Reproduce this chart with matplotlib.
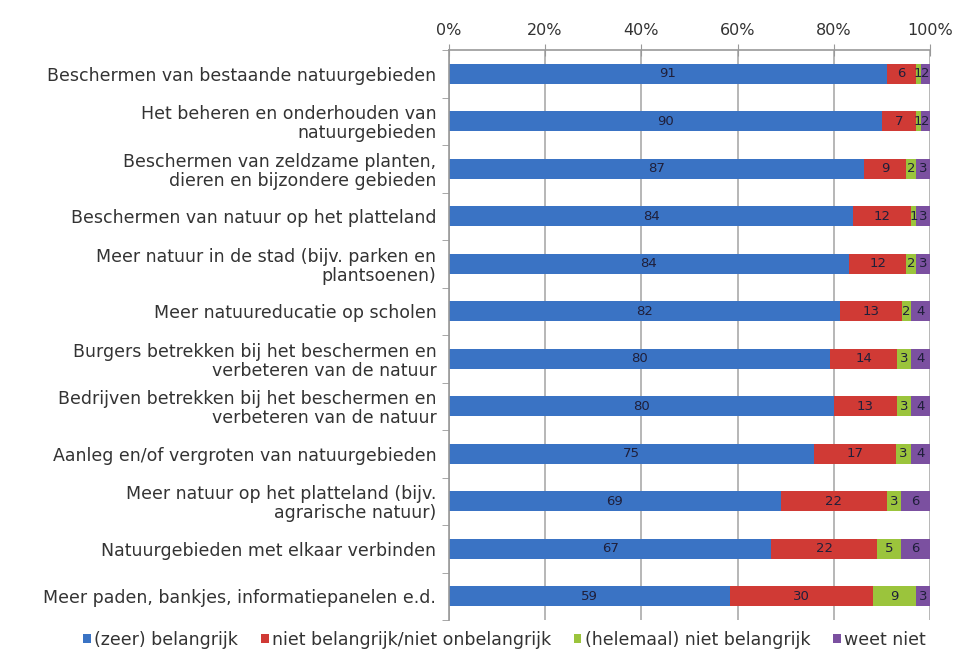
import matplotlib.pyplot as plt
import numpy as np

# Categorieen (van boven naar beneden)
categorieen = [
    'Beschermen van bestaande natuurgebieden',
    'Het beheren en onderhouden van\nnatuurgebieden',
    'Beschermen van zeldzame planten,\ndieren en bijzondere gebieden',
    'Beschermen van natuur op het platteland',
    'Meer natuur in de stad (bijv. parken en\nplantsoenen)',
    'Meer natuureducatie op scholen',
    'Burgers betrekken bij het beschermen en\nverbeteren van de natuur',
    'Bedrijven betrekken bij het beschermen en\nverbeteren van de natuur',
    'Aanleg en/of vergroten van natuurgebieden',
    'Meer natuur op het platteland (bijv.\nagrarische natuur)',
    'Natuurgebieden met elkaar verbinden',
    'Meer paden, bankjes, informatiepanelen e.d.',
]

zeer_belangrijk = [91, 90, 87, 84, 84, 82, 80, 80, 75, 69, 67, 59]
neutraal = [6, 7, 9, 12, 12, 13, 14, 13, 17, 22, 22, 30]
niet_belangrijk = [1, 1, 2, 1, 2, 2, 3, 3, 3, 3, 5, 9]
weet_niet = [2, 2, 3, 3, 3, 4, 4, 4, 4, 6, 6, 3]

reeksen = ['(zeer) belangrijk', 'niet belangrijk/niet onbelangrijk',
           '(helemaal) niet belangrijk', 'weet niet']
kleuren = ['#3a73c4', '#d03a35', '#9bc43c', '#7b50a0']

plt.rcParams['font.family'] = 'DejaVu Sans'

fig = plt.figure(figsize=(9.61, 6.61), dpi=100)
ax = fig.add_axes([0.467, 0.062, 0.501, 0.862])

alle = np.array([zeer_belangrijk, neutraal, niet_belangrijk, weet_niet], dtype=float)
totaal = alle.sum(axis=0)  # 100% gestapeld, zoals in Excel

y = np.arange(len(categorieen))
links = np.zeros(len(categorieen))
for naam, waarden, kleur in zip(reeksen, alle, kleuren):
    breedte = waarden / totaal * 100
    ax.barh(y, breedte, left=links, height=0.42, color=kleur, label=naam, zorder=2)
    for xi, yi, w, v in zip(links, y, breedte, waarden):
        ax.text(xi + w / 2, yi, f'{int(v)}', ha='center', va='center',
                fontsize=9.5, color='#1f1f3a', zorder=3)
    links += breedte

ax.set_xlim(0, 100)
ax.set_ylim(len(categorieen) - 0.5, -0.5)

ax.xaxis.tick_top()
ax.set_xticks(np.arange(0, 101, 20))
ax.set_xticklabels([f'{v}%' for v in range(0, 101, 20)], fontsize=11.5, color='#333333')
ax.tick_params(axis='x', direction='inout', length=8, color='#999999', pad=5)
ax.grid(axis='x', color='#aaaaaa', linewidth=1.2, zorder=0)

ax.set_yticks(y)
ax.set_yticklabels(categorieen, fontsize=12.5, color='#333333', linespacing=1.05)
ax.set_yticks(np.arange(-0.5, len(categorieen)), minor=True)
ax.tick_params(axis='y', which='major', length=0, pad=9)
ax.tick_params(axis='y', which='minor', length=5, color='#999999')

for kant in ['right', 'bottom']:
    ax.spines[kant].set_visible(False)
for kant in ['top', 'left']:
    ax.spines[kant].set_color('#999999')
    ax.spines[kant].set_linewidth(1.2)

fig.legend(loc='lower center', bbox_to_anchor=(0.525, -0.005), ncol=4, frameon=False,
           fontsize=12.5, handlelength=0.45, handleheight=0.45, handletextpad=0.2,
           columnspacing=1.3, labelcolor='#333333')

fig.savefig('out.png', dpi=100, facecolor='white')
